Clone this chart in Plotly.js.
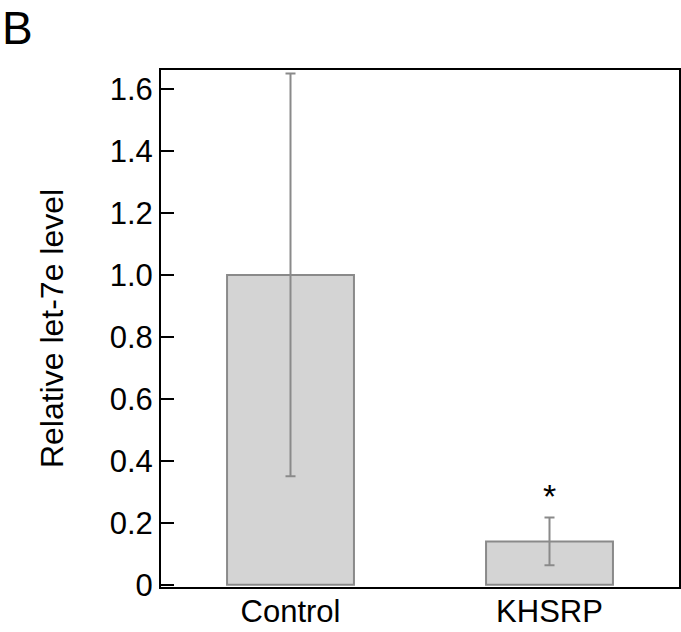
<!DOCTYPE html>
<html>
<head>
<meta charset="utf-8">
<script src="https://cdn.plot.ly/plotly-3.0.1.min.js"></script>
<style>html,body{margin:0;padding:0;background:#fff;}#chart{width:681px;height:632px;}</style>
</head>
<body>
<div id="chart"></div>
<script>
const categories = ["Control", "KHSRP"];
const values = [1.0, 0.14];
const errors = [0.65, 0.077];
const yTickVals = [0, 0.2, 0.4, 0.6, 0.8, 1.0, 1.2, 1.4, 1.6];
const yTickText = ["0", "0.2", "0.4", "0.6", "0.8", "1.0", "1.2", "1.4", "1.6"];
const sigLabel = "*";
const sigIndex = 1;

const font = "Liberation Sans, Arial, sans-serif";

const trace = {
  type: "bar",
  x: categories,
  y: values,
  width: 0.49,
  marker: {color: "#d4d4d4", line: {color: "#8a8a8a", width: 2}},
  error_y: {type: "data", array: errors, visible: true, color: "#8a8a8a", thickness: 2, width: 5}
};

const layout = {
  width: 681, height: 632,
  margin: {l: 161, r: 2, t: 70, b: 45},
  paper_bgcolor: "#fff", plot_bgcolor: "#fff",
  showlegend: false,
  font: {family: font, color: "#000", size: 30},
  xaxis: {
    range: [-0.5, 1.5],
    showline: true, linecolor: "#000", linewidth: 2, mirror: true,
    ticks: "", showgrid: false, zeroline: false,
    ticklabelstandoff: -4,
    tickfont: {size: 31, family: font}
  },
  yaxis: {
    range: [-0.007, 1.661],
    showline: true, linecolor: "#000", linewidth: 2, mirror: true,
    ticks: "inside", ticklen: 13, tickwidth: 2, tickcolor: "#000",
    tickvals: yTickVals, ticktext: yTickText,
    showgrid: false, zeroline: false,
    tickfont: {size: 31, family: font},
    title: {text: "Relative let-7e level", font: {size: 32, family: font}, standoff: 36}
  },
  annotations: [
    {xref: "x", yref: "y", x: categories[sigIndex], y: values[sigIndex] + errors[sigIndex] + 0.07,
     text: sigLabel, showarrow: false, font: {size: 34, family: font}, yanchor: "middle"},
    {xref: "paper", yref: "paper", x: -0.31, y: 1.135, xanchor: "left", yanchor: "top",
     text: "B", showarrow: false, font: {size: 46, family: font}}
  ]
};

Plotly.newPlot("chart", [trace], layout, {displayModeBar: false, staticPlot: true});
</script>
</body>
</html>
